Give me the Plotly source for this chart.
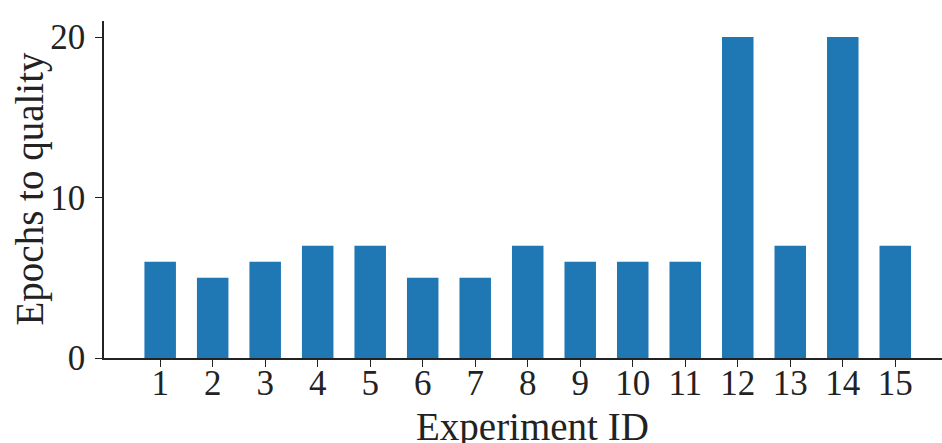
import plotly.graph_objects as go

# Epochs needed to reach target quality, per experiment
experiment_ids = list(range(1, 16))
epochs_to_quality = [6, 5, 6, 7, 7, 5, 5, 7, 6, 6, 6, 20, 7, 20, 7]
y_ticks = [0, 10, 20]

FONT = "Liberation Serif, Times New Roman, serif"
W, H = 942, 443
M_L, M_R, M_T, M_B = 104, 0, 21, 85

fig = go.Figure(
    go.Bar(
        x=experiment_ids,
        y=epochs_to_quality,
        width=0.6,
        marker=dict(color="#1f77b4", line=dict(width=0)),
    )
)

fig.update_layout(
    width=W,
    height=H,
    margin=dict(l=M_L, r=M_R, t=M_T, b=M_B, pad=0),
    paper_bgcolor="white",
    plot_bgcolor="white",
    showlegend=False,
    font=dict(family=FONT, size=35, color="#222222"),
)

fig.update_xaxes(
    range=[-0.07, 15.89],
    tickmode="array",
    tickvals=experiment_ids,
    ticktext=[str(i) for i in experiment_ids],
    ticks="outside",
    ticklen=7,
    tickwidth=1.3,
    tickcolor="#222222",
    ticklabelstandoff=-14,
    showline=True,
    linecolor="#222222",
    linewidth=1.5,
    showgrid=False,
    zeroline=False,
    tickfont=dict(family=FONT, size=35, color="#222222"),
)

fig.update_yaxes(
    range=[0, 21],
    tickmode="array",
    tickvals=y_ticks,
    ticktext=[str(v) for v in y_ticks],
    ticks="outside",
    ticklen=7,
    tickwidth=1.3,
    tickcolor="#222222",
    ticklabelstandoff=3,
    showline=True,
    linecolor="#222222",
    linewidth=1.5,
    showgrid=False,
    zeroline=False,
    tickfont=dict(family=FONT, size=35, color="#222222"),
)

plot_w = W - M_L - M_R
plot_h = H - M_T - M_B

# Axis titles as annotations for precise placement
fig.add_annotation(
    text="Experiment ID",
    xref="paper", yref="paper",
    x=(532 - M_L) / plot_w,
    y=-(427 - (H - M_B)) / plot_h,
    xanchor="center", yanchor="middle",
    showarrow=False,
    font=dict(family=FONT, size=39, color="#222222"),
)
fig.add_annotation(
    text="Epochs to quality",
    xref="paper", yref="paper",
    x=(29 - M_L) / plot_w,
    y=0.5,
    xanchor="center", yanchor="middle",
    textangle=-90,
    showarrow=False,
    font=dict(family=FONT, size=39, color="#222222"),
)

fig.write_html("out.html")
